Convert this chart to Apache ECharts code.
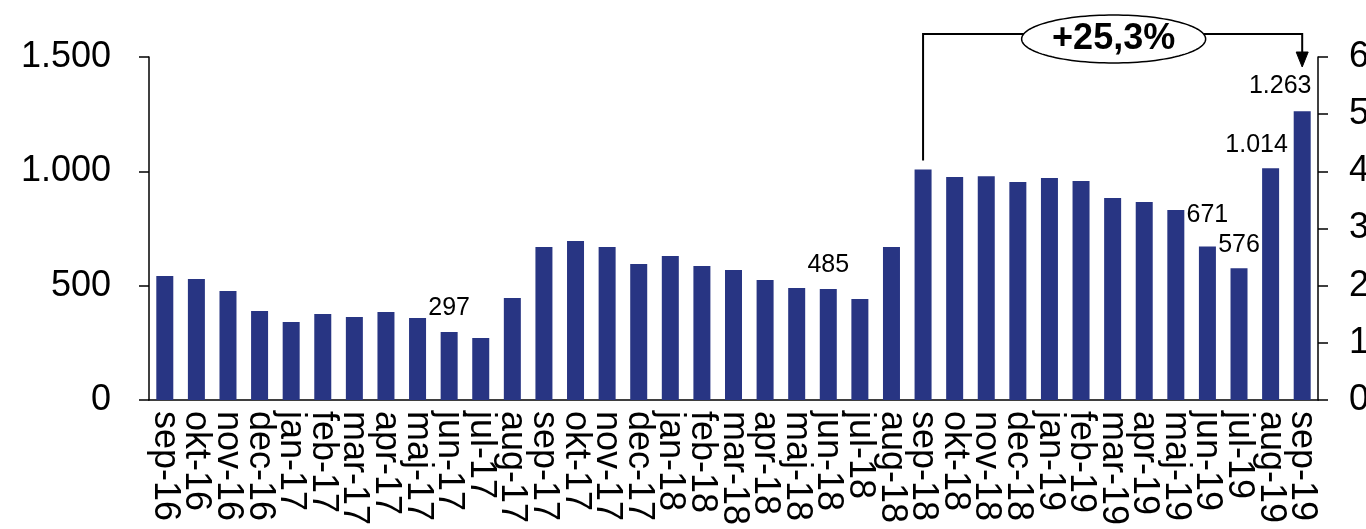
<!DOCTYPE html>
<html>
<head>
<meta charset="utf-8">
<script src="https://cdn.jsdelivr.net/npm/echarts@6/dist/echarts.min.js"></script>
<style>html,body{margin:0;padding:0;background:#fff;}#c{width:1366px;height:529px;}</style>
</head>
<body>
<div id="c"></div>
<script>
const categories = ['sep-16','okt-16','nov-16','dec-16','jan-17','feb-17','mar-17','apr-17','maj-17','jun-17','jul-17','aug-17',
  'sep-17','okt-17','nov-17','dec-17','jan-18','feb-18','mar-18','apr-18','maj-18','jun-18','jul-18','aug-18',
  'sep-18','okt-18','nov-18','dec-18','jan-19','feb-19','mar-19','apr-19','maj-19','jun-19','jul-19','aug-19','sep-19'];
const values = [542, 529, 477, 389, 341, 376, 363, 385, 359, 297, 271, 446,
  669, 695, 669, 595, 630, 586, 568, 525, 490, 485, 442, 669,
  1008, 975, 979, 953, 971, 958, 883, 866, 831, 671, 576, 1014, 1263];
const labelledCategories = ['jun-17','jun-18','jun-19','jul-19','aug-19','sep-19'];
const leftTicks = [0, 500, 1000, 1500];
const rightTicks = [0, 1, 2, 3, 4, 5, 6];
const changeFrom = 'sep-18';
const changeTo = 'sep-19';
const changeText = '+25,3%';

// label nudges (layout only)
const labelNudge = { 'jun-19': [0, -8], 'aug-19': [-14, 0], 'sep-19': [-22, -2] };

const fmt = v => String(v).replace(/\B(?=(\d{3})+(?!\d))/g, '.');
const FONT = 'Liberation Sans, Arial, Helvetica, sans-serif';

const chart = echarts.init(document.getElementById('c'), null, { renderer: 'canvas' });

const seriesData = categories.map((c, i) => {
  const show = labelledCategories.includes(c);
  const item = { value: values[i], label: { show: show } };
  if (show && labelNudge[c]) item.label.offset = labelNudge[c];
  return item;
});

const axisCommon = {
  axisLine: { show: true, lineStyle: { color: '#000', width: 1.5 } },
  axisTick: { show: true, inside: false, length: 10, lineStyle: { color: '#000', width: 1.5 } },
  splitLine: { show: false }
};

chart.setOption({
  animation: false,
  backgroundColor: '#fff',
  grid: { left: 149, right: 48, top: 57, bottom: 129, containLabel: false, outerBoundsMode: 'none' },
  xAxis: {
    type: 'category',
    data: categories,
    axisLine: { show: true, onZero: false, lineStyle: { color: '#000', width: 1.5 } },
    axisTick: { show: false },
    axisLabel: { interval: 0, rotate: -90, margin: 11, fontSize: 36, color: '#000', fontFamily: FONT }
  },
  yAxis: [
    Object.assign({
      type: 'value', position: 'left',
      min: leftTicks[0], max: leftTicks[leftTicks.length - 1], interval: leftTicks[1] - leftTicks[0],
      axisLabel: { margin: 38, fontSize: 36, color: '#000', fontFamily: FONT, formatter: v => fmt(v) }
    }, axisCommon),
    Object.assign({
      type: 'value', position: 'right',
      min: rightTicks[0], max: rightTicks[rightTicks.length - 1], interval: rightTicks[1] - rightTicks[0],
      axisLabel: { margin: 31, fontSize: 36, color: '#000', fontFamily: FONT, formatter: v => String(v) }
    }, axisCommon)
  ],
  series: [{
    type: 'bar',
    yAxisIndex: 0,
    data: seriesData,
    barWidth: 17,
    itemStyle: { color: '#283583' },
    label: { position: 'top', distance: 11, fontSize: 25, color: '#000', fontFamily: FONT,
      formatter: p => fmt(p.value) }
  }]
});

// Annotation bracket computed through the library's scales
const iFrom = categories.indexOf(changeFrom);
const iTo = categories.indexOf(changeTo);
const pFrom = chart.convertToPixel({ xAxisIndex: 0, yAxisIndex: 0 }, [iFrom, values[iFrom]]);
const pTo = chart.convertToPixel({ xAxisIndex: 0, yAxisIndex: 0 }, [iTo, values[iTo]]);
const yLine = 34;
const x1 = pFrom[0], x2 = pTo[0];
const arrowBase = 52, arrowTip = 67;
const cx = (x1 + x2) / 2 + 1, cy = 39, rx = 92, ry = 24;
const ell = [];
for (let k = 0; k < 120; k++) {
  const t = k / 120 * Math.PI * 2;
  ell.push([cx + rx * Math.cos(t), cy + ry * Math.sin(t)]);
}
chart.setOption({
  graphic: [
    { type: 'polyline', z: 10, shape: { points: [[x1, pFrom[1] - 9], [x1, yLine], [x2, yLine], [x2, arrowBase]] },
      style: { stroke: '#000', lineWidth: 2, fill: null } },
    { type: 'polygon', z: 10, shape: { points: [[x2 - 6, arrowBase], [x2 + 6, arrowBase], [x2, arrowTip]] },
      style: { fill: '#000', stroke: '#000', lineWidth: 1 } },
    { type: 'polygon', z: 11, shape: { points: ell }, style: { fill: '#fff', stroke: '#000', lineWidth: 1.5 } },
    { type: 'text', z: 12, x: cx, y: cy, style: { text: changeText, fontSize: 36, fontWeight: 'bold',
      fontFamily: FONT, fill: '#000', align: 'center', verticalAlign: 'middle' } }
  ]
});
</script>
</body>
</html>
